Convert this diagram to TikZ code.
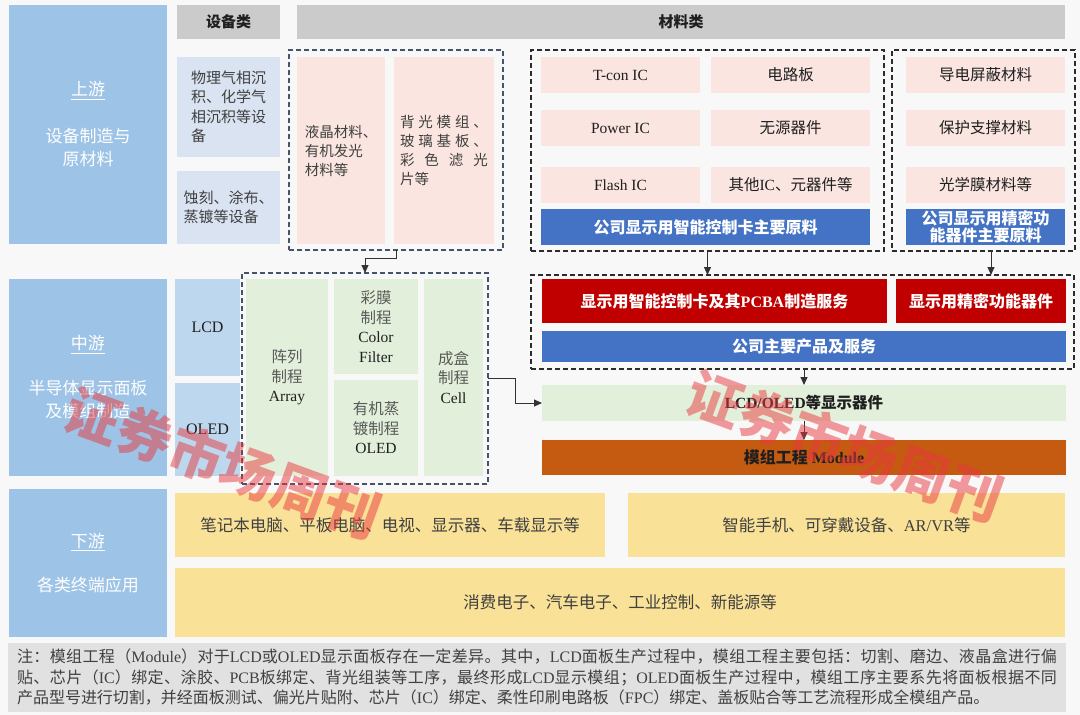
\documentclass[tikz,border=0pt]{standalone}
\usepackage{fontspec}
\setmainfont{Liberation Serif}
\newfontfamily\cjkfont{Noto Sans CJK SC}
\usetikzlibrary{arrows.meta}
% automatic switch between Latin (Liberation Serif) and CJK (Noto Sans CJK SC)
\XeTeXinterchartokenstate=1
\chardef\cjkcls=100
\newcount\cjkcnt
\cjkcnt="3000
\loop\ifnum\cjkcnt<"A000\relax \XeTeXcharclass\cjkcnt=\cjkcls \advance\cjkcnt by 1 \repeat
\cjkcnt="FF00
\loop\ifnum\cjkcnt<"FFF0\relax \XeTeXcharclass\cjkcnt=\cjkcls \advance\cjkcnt by 1 \repeat
\XeTeXinterchartoks 0 \cjkcls = {\cjkfont}
\XeTeXinterchartoks 4095 \cjkcls = {\cjkfont}
\XeTeXinterchartoks \cjkcls 0 = {\rmfamily}
\XeTeXinterchartoks \cjkcls 4095 = {\rmfamily}
\XeTeXinterchartoks \cjkcls \cjkcls = {\hskip 0pt plus 2pt\relax}

\definecolor{cBg}{HTML}{F8F8F8}
\definecolor{cLab}{HTML}{9DC3E6}
\definecolor{cHdr}{HTML}{CBCBCB}
\definecolor{cEq}{HTML}{DAE3F1}
\definecolor{cPink}{HTML}{FAE5E0}
\definecolor{cSm}{HTML}{BDD7EE}
\definecolor{cGreen}{HTML}{E2EFDA}
\definecolor{cRed}{HTML}{C00000}
\definecolor{cBlue}{HTML}{4472C4}
\definecolor{cOrange}{HTML}{C55A11}
\definecolor{cYellow}{HTML}{F9E197}
\definecolor{cNote}{HTML}{E1E1E1}
\definecolor{cTxt}{HTML}{404040}
\definecolor{cDk}{HTML}{1F1F1F}
\definecolor{cGray}{HTML}{5A5A5A}
\definecolor{cDashB}{HTML}{44546A}
\definecolor{cDashK}{HTML}{2B2B2B}
\definecolor{cLine}{HTML}{333333}
\definecolor{cWM}{HTML}{E8383D}

\newcommand\bx[7]{\node[#6,anchor=north west,minimum width=#4pt-#2pt,minimum height=#5pt-#3pt] (#1) at (#2,#3) {#7};}

\tikzset{
  sBase/.style={inner sep=2pt,outer sep=0pt,align=center},
  sLab/.style={sBase,fill=cLab,text=white,font=\fontsize{17}{23}\selectfont},
  sHdr/.style={sBase,fill=cHdr,text=cDk,font=\bfseries\fontsize{15}{18}\selectfont},
  sEq/.style={sBase,fill=cEq,text=cTxt,align=left,font=\fontsize{15}{19.5}\selectfont},
  sPk/.style={sBase,fill=cPink,text=cTxt,font=\fontsize{14.5}{19}\selectfont},
  sMt/.style={sBase,fill=cPink,text=cDk,font=\fontsize{15.5}{19}\selectfont},
  sBb/.style={sBase,fill=cBlue,text=white,font=\bfseries\fontsize{16}{19}\selectfont},
  sSm/.style={sBase,fill=cSm,text=cDk,font=\fontsize{16}{19}\selectfont},
  sGr/.style={sBase,fill=cGreen,text=cGray,font=\fontsize{15.5}{19.5}\selectfont},
  sRd/.style={sBase,fill=cRed,text=white,font=\bfseries\fontsize{16}{19}\selectfont},
  sLgr/.style={sBase,fill=cGreen,text=cDk,font=\bfseries\fontsize{15.5}{19}\selectfont},
  sOrg/.style={sBase,fill=cOrange,text=cDk,font=\bfseries\fontsize{16}{19}\selectfont},
  sYl/.style={sBase,fill=cYellow,text=cTxt,font=\fontsize{16.5}{20}\selectfont},
  sNt/.style={sBase,fill=cNote,text=cTxt,font=\fontsize{16}{20.5}\selectfont},
  sDashB/.style={sBase,draw=cDashB,line width=1.6pt,dash pattern=on 5pt off 3pt},
  sDashK/.style={sBase,draw=cDashK,line width=1.6pt,dash pattern=on 5pt off 3pt},
  sConn/.style={draw=cLine,line width=1pt,-{Triangle[length=8pt,width=7pt]}},
  sWm/.style={text=cWM,text opacity=0.5,font=\bfseries\fontsize{55}{55}\selectfont}
}

\begin{document}
\begin{tikzpicture}[x=1pt,y=-1pt]
\fill[cBg] (0,0) rectangle (1080,715);
\useasboundingbox (0,0) rectangle (1080,715);

% ---------- dashed groups ----------
\bx{dA}{289}{50}{503}{250}{sDashB}{}
\bx{dC}{531}{50}{884}{251}{sDashK}{}
\bx{dD}{892}{50}{1075}{251}{sDashK}{}
\bx{dB}{242}{273}{488}{484}{sDashB}{}
\bx{dE}{531}{275}{1074}{369}{sDashK}{}

% ---------- upstream ----------
\bx{up}{9}{5}{167}{244}{sLab}{\underline{上游}\\[24pt]设备制造与\\原材料}
\bx{hE}{177}{5}{280}{39}{sHdr}{设备类}
\bx{hM}{297}{5}{1065}{39}{sHdr}{材料类}
\bx{e1}{177}{57}{280}{157}{sEq}{物理气相沉\\积、化学气\\相沉积等设\\备}
\bx{e2}{177}{171}{280}{244}{sEq}{蚀刻、涂布、\\蒸镀等设备}
\bx{p1}{297}{57}{385}{244}{sPk,align=left}{液晶材料、\\有机发光\\材料等}
\bx{p2}{394}{57}{494}{244}{sPk,text width=88pt,align=justify}{背光模组、\linebreak 玻璃基板、\linebreak 彩色滤光\linebreak 片等}

\bx{m1}{541}{57}{700}{93}{sMt}{T-con IC}
\bx{m2}{711}{57}{870}{93}{sMt}{电路板}
\bx{m3}{541}{110}{700}{146}{sMt}{Power IC}
\bx{m4}{711}{110}{870}{146}{sMt}{无源器件}
\bx{m5}{541}{167}{700}{203}{sMt}{Flash IC}
\bx{m6}{711}{167}{870}{203}{sMt}{其他IC、元器件等}
\bx{mb1}{541}{209}{870}{245}{sBb}{公司显示用智能控制卡主要原料}
\bx{m7}{906}{57}{1065}{93}{sMt}{导电屏蔽材料}
\bx{m8}{906}{110}{1065}{146}{sMt}{保护支撑材料}
\bx{m9}{906}{167}{1065}{203}{sMt}{光学膜材料等}
\bx{mb2}{906}{209}{1065}{245}{sBb,inner sep=1pt,font=\bfseries\fontsize{16}{17}\selectfont}{公司显示用精密功\\能器件主要原料}

% ---------- midstream ----------
\bx{mid}{9}{279}{167}{476}{sLab}{\underline{中游}\\[22pt]半导体显示面板\\及模组制造}
\bx{lcd}{175}{279}{240}{376}{sSm}{LCD}
\bx{oled}{175}{383}{240}{476}{sSm}{OLED}
\bx{g1}{246}{279}{328}{476}{sGr}{阵列\\制程\\\textcolor{cDk}{Array}}
\bx{g2}{334}{279}{418}{374}{sGr}{彩膜\\制程\\\textcolor{cDk}{Color}\\\textcolor{cDk}{Filter}}
\bx{g3}{334}{380}{418}{476}{sGr}{有机蒸\\镀制程\\\textcolor{cDk}{OLED}}
\bx{g4}{424}{279}{483}{476}{sGr}{成盒\\制程\\\textcolor{cDk}{Cell}}

\bx{r1}{542}{279}{887}{323}{sRd}{显示用智能控制卡及其PCBA制造服务}
\bx{r2}{896}{279}{1066}{323}{sRd}{显示用精密功能器件}
\bx{bm}{542}{331}{1066}{362}{sBb}{公司主要产品及服务}
\bx{lo}{542}{385}{1066}{421}{sLgr}{LCD/OLED等显示器件}
\bx{mod}{542}{440}{1066}{475}{sOrg}{模组工程 Module}

% ---------- downstream ----------
\bx{down}{9}{489}{167}{637}{sLab}{\underline{下游}\\[21pt]各类终端应用}
\bx{y1}{175}{493}{605}{557}{sYl}{笔记本电脑、平板电脑、电视、显示器、车载显示等}
\bx{y2}{628}{493}{1065}{557}{sYl}{智能手机、可穿戴设备、AR/VR等}
\bx{y3}{175}{568}{1065}{637}{sYl}{消费电子、汽车电子、工业控制、新能源等}

% ---------- note ----------
\bx{note}{8}{643}{1066}{712}{sNt,text width=1040pt,align=justify}{注：模组工程（Module）对于LCD或OLED显示面板存在一定差异。其中，LCD面板生产过程中，模组工程主要包括：切割、磨边、液晶盒进行偏\linebreak 贴、芯片（IC）绑定、涂胶、PCB板绑定、背光组装等工序，最终形成LCD显示模组；OLED面板生产过程中，模组工序主要系先将面板根据不同\linebreak 产品型号进行切割，并经面板测试、偏光片贴附、芯片（IC）绑定、柔性印刷电路板（FPC）绑定、盖板贴合等工艺流程形成全模组产品。}

% ---------- connectors ----------
\draw[sConn] (dA.south) -- ++(0,8) -| (dB.north);
\draw[sConn] (dB.east) -- ++(27,0) |- (lo.west);
\draw[sConn] (dC.south) -- (dC.south |- dE.north);
\draw[sConn] ([xshift=7.5pt]dD.south) -- ([xshift=7.5pt]dD.south |- dE.north);
\draw[sConn] (lo.north |- dE.south) -- (lo.north);
\draw[sConn] (lo.south) -- (mod.north);

% ---------- watermark ----------
\node[sWm,rotate=-20] (wm1) at (223,463) {证券市场周刊};
\node[sWm,rotate=-20] (wm2) at (845,446) {证券市场周刊};
\end{tikzpicture}
\end{document}
